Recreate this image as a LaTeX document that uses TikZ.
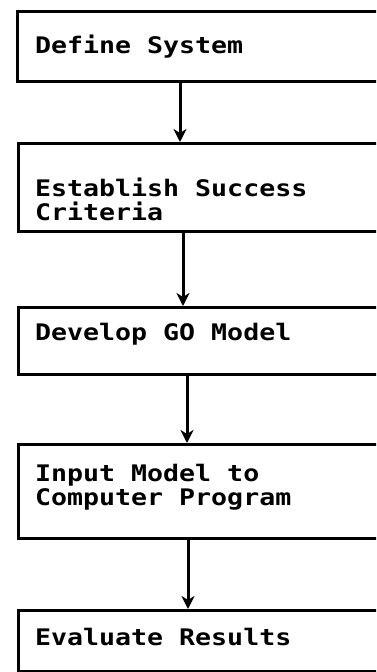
\documentclass[tikz,border=0pt]{standalone}
\usepackage{fontspec}
\newfontfamily\typewriter[FakeStretch=1.166]{DejaVu Sans Mono}
\usetikzlibrary{arrows.meta}
\begin{document}
\begin{tikzpicture}[x=1pt, y=-1pt,
  box/.style={draw, line width=2.8pt, rectangle, minimum width=420pt, inner sep=0pt, anchor=north west},
  lbl/.style={anchor=base west, inner sep=0pt, align=left, font=\typewriter\bfseries\fontsize{22.8pt}{23.2pt}\selectfont},
  flowarrow/.style={draw, line width=3pt, -{Stealth[length=13pt, width=13pt, inset=4pt]}}]
  \useasboundingbox (0,0) rectangle (376,672);
  \clip (0,0) rectangle (376,672);

  % process boxes, open to the right
  \node[box, minimum height=70pt] (b1) at (16,10) {};
  \node[box, minimum height=88pt] (b2) at (17,142) {};
  \node[box, minimum height=67pt] (b3) at (17,306) {};
  \node[box, minimum height=94pt] (b4) at (17,443) {};
  \node[box, minimum height=61pt] (b5) at (17,609) {};

  % box texts (base anchor = baseline of the last line)
  \node[lbl] (t1) at (35,53)  {Define System};
  \node[lbl] (t2) at (35,220) {Establish Success\\Criteria};
  \node[lbl] (t3) at (35,340) {Develop GO Model};
  \node[lbl] (t4) at (35,505) {Input Model to\\Computer Program};
  \node[lbl] (t5) at (35,645) {Evaluate Results};

  % flow arrows between the boxes
  \path[flowarrow] ([xshift=164pt]b1.south west) -- ([xshift=163pt]b2.north west);
  \path[flowarrow] ([xshift=166pt]b2.south west) -- ([xshift=166pt]b3.north west);
  \path[flowarrow] ([xshift=170pt]b3.south west) -- ([xshift=170pt]b4.north west);
  \path[flowarrow] ([xshift=171pt]b4.south west) -- ([xshift=171pt]b5.north west);
\end{tikzpicture}
\end{document}
